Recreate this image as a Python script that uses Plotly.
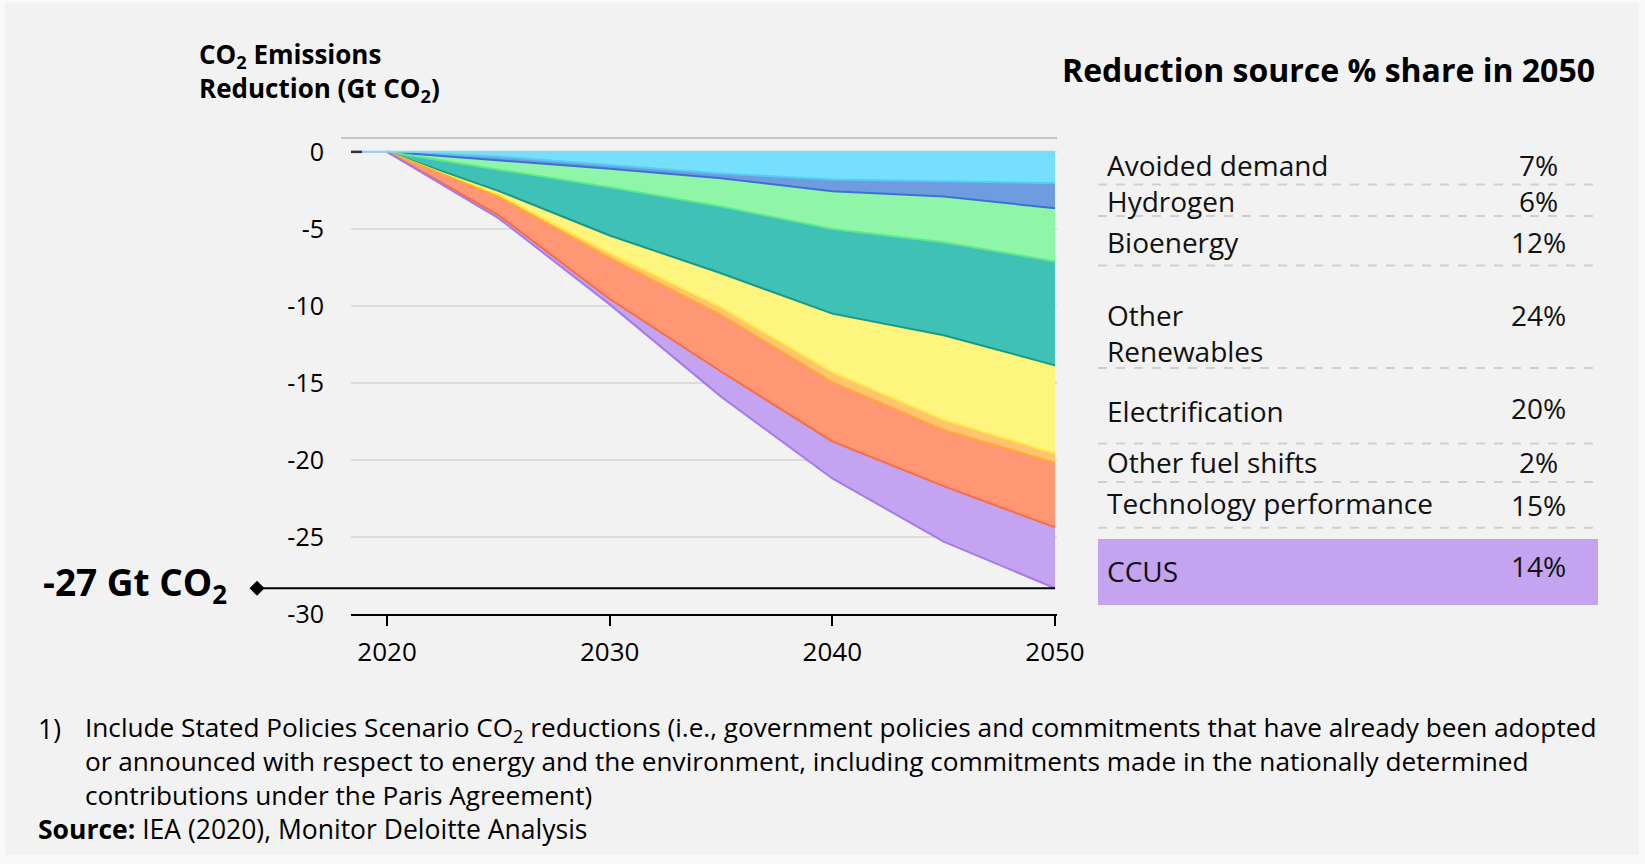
import plotly.graph_objects as go

# ---- data -------------------------------------------------------------
years = [2020, 2025, 2030, 2035, 2040, 2045, 2050]

source_names = ["Avoided demand", "Hydrogen", "Bioenergy", "Other<br>Renewables",
                "Electrification", "Other fuel shifts", "Technology performance", "CCUS"]

# CO2 reductions by source, Gt CO2 (positive = reduction)
avoided_demand = [0, 0.30, 0.85, 1.40, 1.80, 1.93, 2.03]
hydrogen = [0, 0.25, 0.25, 0.31, 0.75, 0.97, 1.63]
bioenergy = [0, 0.60, 1.20, 1.84, 2.45, 2.97, 3.45]
other_renewables = [0, 1.38, 3.13, 4.33, 5.50, 6.03, 6.75]
electrification = [0, 0.26, 1.15, 2.20, 3.80, 5.50, 5.72]
other_fuel_shifts = [0, 0.11, 0.32, 0.50, 0.65, 0.65, 0.60]
technology_performance = [0, 1.20, 2.65, 3.68, 3.85, 3.65, 4.20]
ccus = [0, 0.20, 0.35, 1.63, 2.40, 3.60, 3.95]

series = [avoided_demand, hydrogen, bioenergy, other_renewables,
          electrification, other_fuel_shifts, technology_performance, ccus]

y_tick_values = [0, -5, -10, -15, -20, -25, -30]
y_tick_labels = ["0", "-5", "-10", "-15", "-20", "-25", "-30"]
x_tick_values = [2020, 2030, 2040, 2050]
x_tick_labels = ["2020", "2030", "2040", "2050"]

target_label = "-27 Gt CO<sub>2</sub>"

footnote_lines = [
    "Include Stated Policies Scenario CO<sub>2</sub> reductions (i.e., government policies "
    "and commitments that have already been adopted",
    "or announced with respect to energy and the environment, including commitments made "
    "in the nationally determined",
    "contributions under the Paris Agreement)",
]

# ---- styles -----------------------------------------------------------
fills = ["#76DFFE", "#6E9CDF", "#8FF5A9", "#40C1B6",
         "#FEF57E", "#FFC46E", "#FF9775", "#C4A3F0"]
edges = ["#56CCF5", "#3E6FD8", "#5FE88A", "#0E9C91",
         "#FFEA45", "#FFAA33", "#FF6A3A", "#A47BEE"]

FONT = "Open Sans"
W, H = 1645, 864
L, R, T, B = 351, 1057, 138, 614          # plot area in pixels
X0, X1 = 2018.38, 2050.09
Y0, Y1 = -30, 0.9
PX_PER_UNIT = (B - T) / (Y1 - Y0)


def px(x):
    return (x - L) / (R - L)


def py(y):
    return (B - y) / (B - T)


fig = go.Figure()

for name, vals, fc, ec in zip(source_names, series, fills, edges):
    fig.add_trace(go.Scatter(
        x=years, y=[-v for v in vals], name=name.replace("<br>", " "),
        stackgroup="reductions", mode="lines",
        line=dict(color=ec, width=2), fillcolor=fc, hoverinfo="skip",
    ))

# zero baseline along the top of the stack
fig.add_trace(go.Scatter(x=[2018.87, 2050], y=[0, 0], mode="lines",
                         line=dict(color="#8AD6EE", width=2), hoverinfo="skip"))

total_2050 = sum(s[-1] for s in series)

# diamond head of the total marker line
dx = 7 / (R - L)
dy = 7 / PX_PER_UNIT
cx, cy = px(257), -total_2050
diamond = (f"M {cx - dx},{cy} L {cx},{cy + dy} L {cx + dx},{cy} "
           f"L {cx},{cy - dy} Z")

shapes = [
    # background panel
    dict(type="rect", xref="paper", yref="paper", x0=px(5), x1=px(1639),
         y0=py(855), y1=py(3), fillcolor="#F2F2F2", line=dict(width=0), layer="below"),
    # top frame line
    dict(type="line", xref="paper", yref="paper", x0=px(341), x1=px(1057),
         y0=py(138), y1=py(138), line=dict(color="#C4C4C4", width=2)),
    # short dark stub at zero
    dict(type="line", xref="paper", yref="y", x0=px(351), x1=px(362),
         y0=0, y1=0, line=dict(color="#333333", width=2.5)),
    # total-reduction line
    dict(type="line", xref="paper", yref="y", x0=px(257), x1=px(1055),
         y0=-total_2050, y1=-total_2050, line=dict(color="black", width=2)),
    dict(type="path", xref="paper", yref="y", path=diamond,
         fillcolor="black", line=dict(color="black", width=1)),
    # CCUS highlight row
    dict(type="rect", xref="paper", yref="paper", x0=px(1098), x1=px(1598),
         y0=py(605), y1=py(539), fillcolor="#C4A3F0", line=dict(width=0), layer="below"),
]

# table separators
for yy in [184.5, 216, 265.6, 368, 443.5, 482, 527.7]:
    shapes.append(dict(type="line", xref="paper", yref="paper", x0=px(1098), x1=px(1598),
                       y0=py(yy), y1=py(yy), line=dict(color="#CFCFCF", width=2, dash="dash")))

annotations = [
    dict(text="<b>CO<sub>2</sub> Emissions<br>Reduction (Gt CO<sub>2</sub>)</b>",
         x=px(197), y=py(72), xanchor="left", yanchor="middle", align="left",
         font=dict(size=26, color="black")),
    dict(text=f"<b>{target_label}</b>", x=px(229), y=py(584), xanchor="right",
         yanchor="middle", font=dict(size=37, color="black")),
    dict(text="<b>Reduction source % share in 2050</b>", x=px(1597), y=py(69),
         xanchor="right", yanchor="middle", font=dict(size=32, color="black")),
    dict(text="1)", x=px(36), y=py(729), xanchor="left", yanchor="middle",
         font=dict(size=26.5, color="black")),
    dict(text="<br>".join(footnote_lines), x=px(83), y=py(761), xanchor="left",
         yanchor="middle", align="left", font=dict(size=26.2, color="black")),
    dict(text="<b>Source:</b> IEA (2020), Monitor Deloitte Analysis", x=px(36), y=py(829),
         xanchor="left", yanchor="middle", font=dict(size=26.5, color="black")),
]

label_centres = [165, 200.5, 241.5, 333, 410.5, 461.7, 503.5, 571]
share_centres = [165, 200.5, 241.5, 315, 408.3, 462.3, 505, 566]
for name, vals, ly, sy in zip(source_names, series, label_centres, share_centres):
    share = round(100 * vals[-1] / total_2050)
    annotations.append(dict(text=name, x=px(1105), y=py(ly), xanchor="left", yanchor="middle",
                            align="left", font=dict(size=28, color="#111111")))
    annotations.append(dict(text=f"{share}%", x=px(1538), y=py(sy), xanchor="center",
                            yanchor="middle", font=dict(size=28, color="#111111")))

for a in annotations:
    a.update(xref="paper", yref="paper", showarrow=False)

fig.update_layout(
    width=W, height=H,
    margin=dict(l=L, r=W - R, t=T, b=H - B, pad=0),
    paper_bgcolor="#F9F9F9", plot_bgcolor="rgba(0,0,0,0)",
    font=dict(family=FONT, color="black"),
    showlegend=False,
    shapes=shapes, annotations=annotations,
    xaxis=dict(range=[X0, X1], tickvals=x_tick_values, ticktext=x_tick_labels,
               showgrid=False, zeroline=False, showline=True, linecolor="black", linewidth=2,
               ticks="outside", ticklen=10, tickwidth=2, tickcolor="black",
               tickfont=dict(size=26, family=FONT, color="black"), ticklabelstandoff=4),
    yaxis=dict(range=[Y0, Y1], tickvals=y_tick_values, ticktext=y_tick_labels,
               showgrid=True, gridcolor="#DCDCDC", gridwidth=1.5, zeroline=False,
               showline=False, ticks="", tickfont=dict(size=25, family=FONT, color="black"),
               ticklabelstandoff=26),
)

fig.write_html("out.html")
